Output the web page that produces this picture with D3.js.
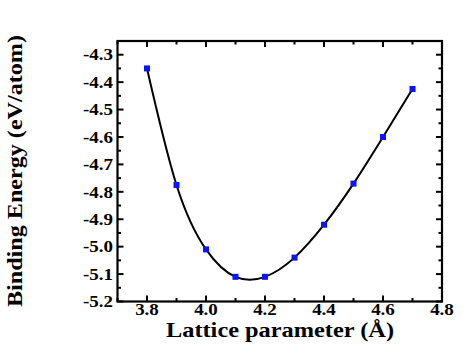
<!DOCTYPE html>
<html><head><meta charset="utf-8">
<script src="https://cdn.jsdelivr.net/npm/d3@7"></script>
<style>body{margin:0;background:#fff}svg{display:block}text{font-family:"Liberation Serif","Times New Roman",serif;font-weight:bold;fill:#000}</style>
</head><body><svg id="c" width="474" height="362"></svg>
<script>
const latticeParam = [3.8, 3.9, 4.0, 4.1, 4.2, 4.3, 4.4, 4.5, 4.6, 4.7];
const bindingEnergy = [-4.35, -4.775, -5.01, -5.11, -5.11, -5.04, -4.92, -4.77, -4.60, -4.425];
const xTicks = [3.8, 4.0, 4.2, 4.4, 4.6, 4.8];
const yTicks = [-5.2, -5.1, -5.0, -4.9, -4.8, -4.7, -4.6, -4.5, -4.4, -4.3];
const xTitle = "Lattice parameter (Å)";
const yTitle = "Binding Energy (eV/atom)";

const svg = d3.select("#c");
const L = 117.5, R = 442, T = 41, B = 301.5;
const x = d3.scaleLinear().domain([3.7, 4.8]).range([L, R]);
const y = d3.scaleLinear().domain([-5.2, -4.25]).range([B, T]);

const xMinor = d3.range(37, 49, 1).map(v => v / 10).filter(v => !xTicks.some(t => Math.abs(t - v) < 1e-9));
const yMinor = d3.range(-520, -424, 5).map(v => v / 100).filter(v => !yTicks.some(t => Math.abs(t - v) < 1e-9));

const g = svg.append("g");
function ticks(axis, vals, len) {
  vals.forEach(v => {
    if (axis === "x") {
      g.append("line").attr("x1", x(v)).attr("x2", x(v)).attr("y1", B).attr("y2", B - len).attr("stroke", "#000").attr("stroke-width", 2);
      g.append("line").attr("x1", x(v)).attr("x2", x(v)).attr("y1", T).attr("y2", T + len).attr("stroke", "#000").attr("stroke-width", 2);
    } else {
      g.append("line").attr("y1", y(v)).attr("y2", y(v)).attr("x1", L).attr("x2", L + len).attr("stroke", "#000").attr("stroke-width", 2);
      g.append("line").attr("y1", y(v)).attr("y2", y(v)).attr("x1", R).attr("x2", R - len).attr("stroke", "#000").attr("stroke-width", 2);
    }
  });
}
ticks("x", xTicks, 6); ticks("x", xMinor, 3.5);
ticks("y", yTicks, 6); ticks("y", yMinor, 3.5);

g.append("rect").attr("x", L).attr("y", T).attr("width", R - L).attr("height", B - T)
  .attr("fill", "none").attr("stroke", "#000").attr("stroke-width", 2.2);

xTicks.forEach(v => svg.append("text").attr("transform", `translate(${x(v)},314.5) scale(1.15,1)`)
  .attr("text-anchor", "middle").attr("font-size", 16.5).text(v.toFixed(1)));
yTicks.forEach(v => svg.append("text").attr("transform", `translate(113,${y(v)}) scale(1.15,1)`)
  .attr("dy", "0.35em").attr("text-anchor", "end").attr("font-size", 16.5).text(v.toFixed(1)));

svg.append("text").attr("x", 280).attr("y", 337).attr("text-anchor", "middle").attr("font-size", 22)
  .attr("textLength", 228).attr("lengthAdjust", "spacingAndGlyphs").text(xTitle);
svg.append("text").attr("transform", "translate(22,171) rotate(-90)").attr("text-anchor", "middle").attr("font-size", 22)
  .attr("textLength", 272).attr("lengthAdjust", "spacingAndGlyphs").text(yTitle);

const data = latticeParam.map((d, i) => [d, bindingEnergy[i]]);
svg.append("path").datum(data)
  .attr("d", d3.line().x(d => x(d[0])).y(d => y(d[1])).curve(d3.curveNatural))
  .attr("fill", "none").attr("stroke", "#000").attr("stroke-width", 2);
svg.selectAll("rect.pt").data(data).enter().append("rect").attr("class", "pt")
  .attr("x", d => x(d[0]) - 3).attr("y", d => y(d[1]) - 3).attr("width", 6).attr("height", 6)
  .attr("fill", "#0a14ff");
</script></body></html>
